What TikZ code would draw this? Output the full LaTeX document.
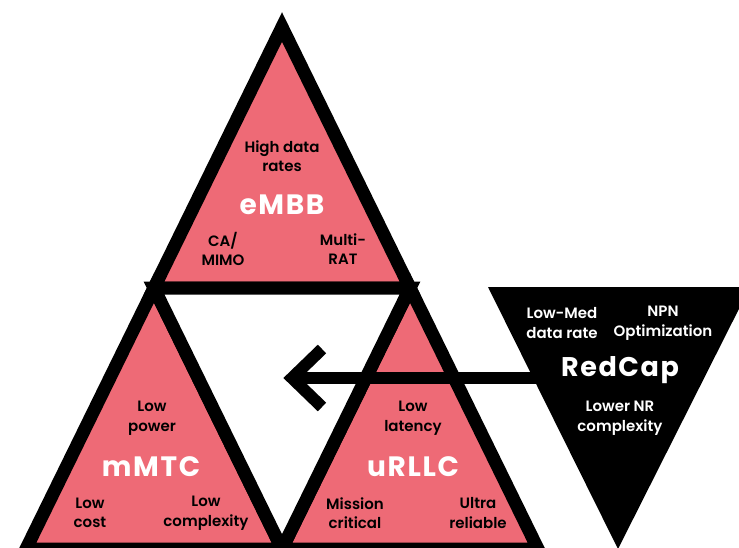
\documentclass[tikz,border=0pt]{standalone}
\usepackage{fontspec}
\setmainfont{Poppins}
\newfontfamily\medf{Poppins SemiBold}
\newfontfamily\bigf{Poppins Bold}[LetterSpace=6]
\definecolor{pinkf}{RGB}{238,106,118}
\tikzset{
  tri/.style={draw=black, line width=13pt, line join=miter, fill=pinkf},
  hole/.style={draw=black, line width=13pt, line join=miter, fill=white},
  small/.style={font=\medf\fontsize{15}{19.5}\selectfont, align=center, text=black, inner sep=0pt},
  smallw/.style={small, text=white},
  big/.style={font=\bigf\fontsize{28}{30}\selectfont, text=white, inner sep=0pt},
  arr/.style={line width=12pt, draw=black, line join=miter},
}
\begin{document}
\begin{tikzpicture}[x=1pt,y=-1pt]
\useasboundingbox (0,0) rectangle (739,548);
\clip (0,0) rectangle (739,548);
% outer vertices and midpoints
\coordinate (A) at (282,27);
\coordinate (B) at (26,549);
\coordinate (C) at (538,549);
\coordinate (mAB) at (154,288);
\coordinate (mAC) at (410,288);
\coordinate (mBC) at (282,549);
% sub-triangles
\draw[tri] (A) -- (mAB) -- (mAC) -- cycle;
\draw[tri] (mAB) -- (B) -- (mBC) -- cycle;
\draw[tri] (mAC) -- (mBC) -- (C) -- cycle;
\draw[hole] (mAB) -- (mAC) -- (mBC) -- cycle;
% RedCap triangle
\coordinate (rTL) at (488,287);
\coordinate (rTR) at (750,287);
\coordinate (rB) at (618,549);
\fill[black] (rTL) -- (rTR) -- (rB) -- cycle;
% arrow
\coordinate (rcin) at (560,378);
\coordinate (tipv) at (292,378);
\coordinate (armT) at (322,349);
\coordinate (armB) at (322,407);
\draw[arr] (rcin) -- (tipv);
\draw[arr] (armT) -- (tipv) -- (armB);
% texts eMBB
\node[small] (t1) at (282,156) {High data\\rates};
\node[big] (embb) at (282,205) {eMBB};
\node[small] (t2) at (223,249) {CA/\\MIMO};
\node[small] (t3) at (343,249) {Multi-\\RAT};
% mMTC
\node[small] (t4) at (152,418) {Low\\power};
\node[big] (mmtc) at (151,467) {mMTC};
\node[small] (t5) at (90,513) {Low\\cost};
\node[small] (t6) at (206,513) {Low\\complexity};
% uRLLC
\node[small] (t7) at (413,418) {Low\\latency};
\node[big] (urllc) at (413,467) {uRLLC};
\node[small] (t8) at (355,513) {Mission\\critical};
\node[small] (t9) at (478,513) {Ultra\\reliable};
% RedCap
\node[smallw] (t10) at (562,323) {Low-Med\\data rate};
\node[smallw] (t11) at (663,323) {NPN\\Optimization};
\node[big, font=\bigf\fontsize{27}{30}\selectfont] (redcap) at (620,370) {RedCap};
\node[smallw] (t12) at (620,418) {Lower NR\\complexity};
\end{tikzpicture}
\end{document}
